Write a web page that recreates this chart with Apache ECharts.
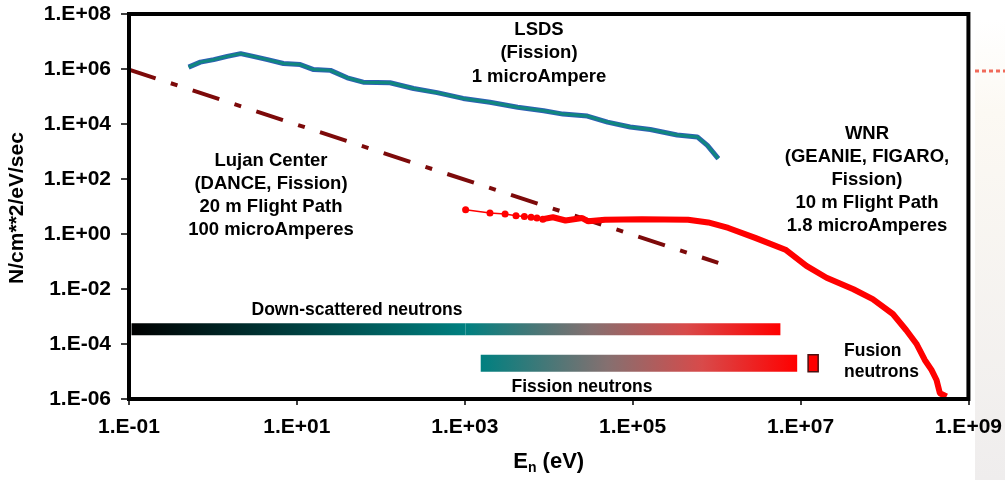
<!DOCTYPE html>
<html>
<head>
<meta charset="utf-8">
<script src="https://cdn.jsdelivr.net/npm/echarts@6/dist/echarts.min.js"></script>
<style>
  html, body { margin: 0; padding: 0; background: #fff; }
  #chart { width: 1005px; height: 480px; }
</style>
</head>
<body>
<div id="chart"></div>
<script>
// all values are log10: energy in eV, flux in N/cm**2/eV/sec
const xTickExps = [-1, 1, 3, 5, 7, 9];
const yTickExps = [-6, -4, -2, 0, 2, 4, 6, 8];

// LSDS (Fission), 1 microAmpere
const lsdsLogE = [-0.29, -0.15, 0.01, 0.17, 0.33, 0.48, 0.65, 0.84, 1.04, 1.20, 1.40, 1.60, 1.79, 2.11,
  2.39, 2.67, 2.98, 3.30, 3.63, 3.94, 4.17, 4.46, 4.70, 4.97, 5.21, 5.53, 5.77, 5.89, 6.02];
const lsdsLogFlux = [6.07, 6.25, 6.34, 6.46, 6.56, 6.46, 6.34, 6.20, 6.16, 5.98, 5.95, 5.68, 5.52, 5.50,
  5.29, 5.14, 4.93, 4.79, 4.61, 4.48, 4.36, 4.29, 4.07, 3.89, 3.80, 3.60, 3.53, 3.22, 2.74];

// Lujan Center, 20 m flight path
const lujanLogE = [-1.0, 6.02];
const lujanLogFlux = [5.98, -1.05];

// WNR, low-energy points with markers
const wnrLowLogE = [3.01, 3.30, 3.48, 3.61, 3.71, 3.79, 3.86, 3.93];
const wnrLowLogFlux = [0.88, 0.76, 0.73, 0.66, 0.64, 0.61, 0.58, 0.54];

// WNR, main curve
const wnrLogE = [3.93, 4.05, 4.20, 4.40, 4.47, 4.67, 5.11, 5.66, 5.90, 6.14, 6.46, 6.82, 7.07, 7.31,
  7.63, 7.86, 8.10, 8.26, 8.38, 8.48, 8.56, 8.62, 8.66, 8.74];
const wnrLogFlux = [0.54, 0.61, 0.49, 0.58, 0.46, 0.52, 0.54, 0.52, 0.42, 0.22, -0.14, -0.57, -1.16, -1.59,
  -2.01, -2.37, -2.91, -3.50, -3.99, -4.58, -4.94, -5.31, -5.79, -5.91];

// energy bands: start, end, flux level
const bandStart = [-0.97, 3.01, 3.19, 7.09];
const bandEnd = [3.01, 6.76, 6.96, 7.21];
const bandLevel = [-3.46, -3.46, -4.70, -4.70];

const FONT = "'Liberation Sans', Arial, sans-serif";

const pairs = (xs, ys) => xs.map((x, i) => [x, ys[i]]);
const expLabel = (v) => '1.E' + (v < 0 ? '-' : '+') + String(Math.abs(Math.round(v))).padStart(2, '0');

const tealRed = [
  { offset: 0, color: '#008080' },
  { offset: 0.4, color: '#857070' },
  { offset: 0.7, color: '#d84a4a' },
  { offset: 1, color: '#ff0000' },
];
const bandFills = [
  new echarts.graphic.LinearGradient(0, 0, 1, 0, [
    { offset: 0, color: '#000000' },
    { offset: 1, color: '#008080' },
  ]),
  new echarts.graphic.LinearGradient(0, 0, 1, 0, tealRed),
  new echarts.graphic.LinearGradient(0, 0, 1, 0, tealRed),
  '#ff0000',
];
const bandHeights = [12, 12, 17, 17];

function textBlock(lines, x, y, size, lh, align) {
  return {
    type: 'text',
    x: x,
    y: y,
    z: 10,
    style: {
      text: lines.join('\n'),
      fill: '#000',
      font: 'bold ' + size + 'px ' + FONT,
      lineHeight: lh,
      align: align || 'center',
      verticalAlign: 'top',
    },
  };
}

const myChart = echarts.init(document.getElementById('chart'));
const option = {
  animation: false,
  backgroundColor: '#fff',
  grid: {
    left: 129,
    right: 34,
    top: 14,
    bottom: 78,
    show: true,
    borderColor: '#000',
    borderWidth: 4,
    z: 5,
  },
  xAxis: {
    type: 'value',
    min: -1,
    max: 9,
    interval: 1,
    axisLine: { show: false, onZero: false },
    splitLine: { show: false },
    axisTick: {
      show: true,
      length: 6,
      customValues: xTickExps,
      lineStyle: { color: '#000', width: 1.5 },
    },
    axisLabel: {
      customValues: xTickExps,
      formatter: expLabel,
      margin: 18,
      color: '#000',
      fontSize: 21,
      fontWeight: 'bold',
      fontFamily: FONT,
    },
    name: '{a|E}{s|n}{a| (eV)}',
    nameLocation: 'middle',
    nameGap: 50,
    nameTextStyle: {
      rich: {
        a: { fontSize: 22, fontWeight: 'bold', fontFamily: FONT, color: '#000', lineHeight: 26 },
        s: { fontSize: 14, fontWeight: 'bold', fontFamily: FONT, color: '#000', lineHeight: 26, padding: [12, 0, 0, 0] },
      },
    },
  },
  yAxis: {
    type: 'value',
    min: -6,
    max: 8,
    interval: 2,
    axisLine: { show: false, onZero: false },
    splitLine: { show: false },
    axisTick: {
      show: true,
      length: 8,
      customValues: yTickExps,
      lineStyle: { color: '#000', width: 1.5 },
    },
    axisLabel: {
      customValues: yTickExps,
      formatter: expLabel,
      margin: 18,
      color: '#000',
      fontSize: 21,
      fontWeight: 'bold',
      fontFamily: FONT,
    },
  },
  graphic: [
    {
      type: 'rect',
      z: -1,
      shape: { x: 975, y: 20, width: 30, height: 460 },
      style: {
        fill: new echarts.graphic.LinearGradient(0, 0, 0, 1, [
          { offset: 0, color: '#ffffff' },
          { offset: 0.2, color: '#fcf9f3' },
          { offset: 1, color: '#efeded' },
        ]),
      },
    },
    {
      type: 'line',
      z: -1,
      shape: { x1: 975, y1: 71, x2: 1005, y2: 71 },
      style: { stroke: '#f06a5a', lineWidth: 3, lineDash: [4, 3] },
    },
    {
      type: 'text',
      x: 17,
      y: 208,
      rotation: Math.PI / 2,
      z: 10,
      style: {
        text: 'N/cm**2/eV/sec',
        fill: '#000',
        font: 'bold 21px ' + FONT,
        align: 'center',
        verticalAlign: 'middle',
      },
    },
    textBlock(['LSDS', '(Fission)', '1 microAmpere'], 539, 18, 18.5, 23.5),
    textBlock(['Lujan Center', '(DANCE, Fission)', '20 m Flight Path', '100 microAmperes'], 271, 149, 18.5, 23),
    textBlock(['WNR', '(GEANIE, FIGARO,', 'Fission)', '10 m Flight Path', '1.8 microAmperes'], 867, 122, 18.5, 23.2),
    textBlock(['Down-scattered neutrons'], 357, 300, 17.5, 20),
    textBlock(['Fission neutrons'], 582, 377, 17.5, 20),
    textBlock(['Fusion', 'neutrons'], 844, 341, 17.5, 20.6, 'left'),
  ],
  series: [
    {
      name: 'Energy bands',
      type: 'custom',
      z: 2,
      data: bandStart.map((s, i) => [s, bandEnd[i], bandLevel[i]]),
      renderItem: (params, api) => {
        const p0 = api.coord([api.value(0), api.value(2)]);
        const p1 = api.coord([api.value(1), api.value(2)]);
        const h = bandHeights[params.dataIndex];
        const isBox = params.dataIndex === 3;
        return {
          type: 'rect',
          shape: { x: p0[0], y: p0[1] - h / 2, width: p1[0] - p0[0], height: h },
          style: {
            fill: bandFills[params.dataIndex],
            stroke: isBox ? '#4a1010' : null,
            lineWidth: isBox ? 1.5 : 0,
          },
        };
      },
    },
    {
      name: 'Lujan Center',
      type: 'line',
      z: 3,
      data: pairs(lujanLogE, lujanLogFlux),
      symbol: 'none',
      lineStyle: { color: '#7d0a0a', width: 4, type: [28, 16, 7, 16], cap: 'butt' },
    },
    {
      name: 'LSDS outline',
      type: 'line',
      z: 3,
      data: pairs(lsdsLogE, lsdsLogFlux),
      symbol: 'none',
      lineStyle: { color: '#2f5fb5', width: 5 },
    },
    {
      name: 'LSDS',
      type: 'line',
      z: 4,
      data: pairs(lsdsLogE, lsdsLogFlux),
      symbol: 'none',
      lineStyle: { color: '#10877f', width: 3 },
    },
    {
      name: 'WNR low',
      type: 'line',
      z: 4,
      data: pairs(wnrLowLogE, wnrLowLogFlux),
      symbol: 'circle',
      symbolSize: 7,
      itemStyle: { color: '#ff0000' },
      lineStyle: { color: '#ff0000', width: 1.5 },
    },
    {
      name: 'WNR',
      type: 'line',
      z: 4,
      data: pairs(wnrLogE, wnrLogFlux),
      symbol: 'none',
      lineStyle: { color: '#ff0000', width: 6 },
    },
  ],
};
myChart.setOption(option);
</script>
</body>
</html>
